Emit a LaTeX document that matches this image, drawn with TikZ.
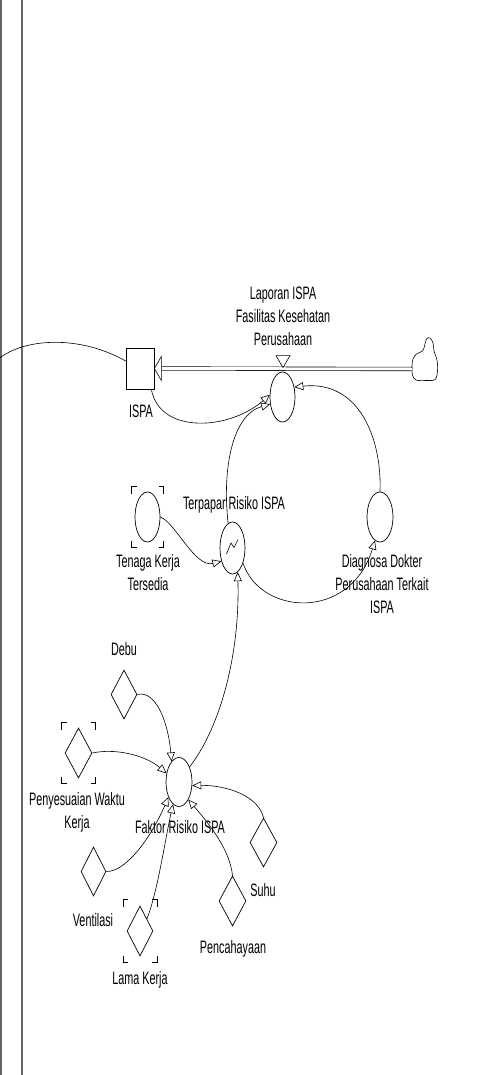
\documentclass[tikz,border=0pt]{standalone}
\usepackage{fontspec}
\setmainfont[FakeStretch=0.6]{Liberation Sans}
\usetikzlibrary{shapes.geometric,arrows.meta,calc}
\tikzset{
  lbl/.style={font=\fontsize{18}{23}\selectfont, align=center, inner sep=0pt},
  aux/.style={draw, ellipse, inner sep=0pt, line width=0.7pt},
  cst/.style={draw, diamond, inner sep=0pt, line width=0.7pt},
  stockbox/.style={draw, rectangle, inner sep=0pt, line width=0.7pt},
  plain/.style={line width=0.6pt},
  conn/.style={line width=0.6pt, -{Triangle[open,length=9pt,width=8pt,line width=0.6pt]}},
  frame/.style={line width=1.3pt, black!60},
}
\newcommand\ghostmarks[3]{%
  \begin{scope}[shift={(#1.center)}]
    \draw[plain] (-#2,-#3+7) -- (-#2,-#3) -- (-#2+5,-#3);
    \draw[plain] (#2-5,-#3) -- (#2,-#3) -- (#2,-#3+7);
    \draw[plain] (-#2,#3-7) -- (-#2,#3) -- (-#2+5,#3);
    \draw[plain] (#2-5,#3) -- (#2,#3) -- (#2,#3-7);
  \end{scope}}
\begin{document}
\begin{tikzpicture}[x=1pt,y=-1pt]
\useasboundingbox (0,0) rectangle (500,1075);
\fill[white] (0,0) rectangle (500,1075);
% frame lines
\coordinate (fa1) at (1,0); \coordinate (fa2) at (1,1075);
\coordinate (fb1) at (22,0); \coordinate (fb2) at (22,1075);
\draw[frame] (fa1) -- (fa2);
\draw[frame] (fb1) -- (fb2);

% stock and flow
\node[stockbox, minimum width=28pt, minimum height=41pt] (ispa) at (140,368.5) {};
\node[aux, minimum width=25pt, minimum height=50pt] (lap) at (282.5,397) {};
\coordinate (cloudL) at (412,369);
\draw[plain] plot[smooth cycle, tension=0.6] coordinates {(412,366) (412.5,375) (416,380) (426,380.5) (435,379.5) (437.5,371) (437,360) (434,351) (433,343) (430,338) (426.5,339) (424.5,346) (422.5,351) (416.5,354) (413,359)};
\draw[line width=0.6pt, double, double distance=3pt] (cloudL) -- ($(ispa.east)+(7,0)$);
\draw[plain, fill=white] (ispa.east) -- ++(7,-12) -- ++(0,24) -- cycle;
\draw[plain, fill=white] ($(lap.north)+(-6.5,-16)$) -- ++(14,0) -- ($(lap.north)+(0.5,-4)$) -- cycle;

% auxiliaries
\node[aux, minimum width=25pt, minimum height=52pt] (terp) at (232.5,548) {};
\draw[plain] ($(terp.center)+(-6,6)$) -- ++(4.5,-11) -- ++(3,4.5) -- ++(4,-8);
\node[aux, minimum width=25pt, minimum height=50pt] (ten) at (147.5,517) {};
\ghostmarks{ten}{16}{30.5}
\node[aux, minimum width=26pt, minimum height=50pt] (diag) at (380,517) {};
\node[aux, minimum width=26pt, minimum height=49pt] (fak) at (179,782) {};

% constants
\node[cst, minimum width=26pt, minimum height=49pt] (debu) at (124,694.5) {};
\node[cst, minimum width=27pt, minimum height=50pt] (pen) at (78.5,753) {};
\ghostmarks{pen}{17}{30.5}
\node[cst, minimum width=27pt, minimum height=49pt] (suhu) at (263.5,842.5) {};
\node[cst, minimum width=27pt, minimum height=50pt] (penc) at (232.5,901) {};
\node[cst, minimum width=25pt, minimum height=49pt] (vent) at (93.5,871.5) {};
\node[cst, minimum width=26pt, minimum height=50pt] (lama) at (140,931) {};
\ghostmarks{lama}{17}{31.5}

% labels
\node[lbl] (lapL) at (283,316) {Laporan ISPA\\Fasilitas Kesehatan\\Perusahaan};
\node[lbl] (ispaL) at (141,411) {ISPA};
\node[lbl] (terpL) at (234,505) {Terpapar Risiko ISPA};
\node[lbl] (tenL) at (148,572.5) {Tenaga Kerja\\Tersedia};
\node[lbl] (diagL) at (382,584) {Diagnosa Dokter\\Perusahaan Terkait\\ISPA};
\node[lbl] (debuL) at (124,649) {Debu};
\node[lbl] (penL) at (77,812.5) {Penyesuaian Waktu\\Kerja};
\node[lbl] (fakL) at (180,827) {Faktor Risiko ISPA};
\node[lbl] (suhuL) at (263,890) {Suhu};
\node[lbl] (pencL) at (233,949) {Pencahayaan};
\node[lbl] (ventL) at (93,920) {Ventilasi};
\node[lbl] (lamaL) at (140,980) {Lama Kerja};

% connectors
\coordinate (offl) at (-1,358.5);
\draw[plain] (offl) .. controls (25,338) and (80,335) .. ($(ispa.north west)!0.32!(ispa.south west)$);
\draw[conn] ($(ispa.south east)+(-3,0)$) .. controls (160,435) and (230,430) .. (lap.170);
\draw[conn] (terp.100) .. controls (222,470) and (232,415) .. (lap.210);
\draw[conn] (diag.north) .. controls (382,440) and (360,380) .. (lap.40);
\draw[conn] (ten.east) .. controls (175,522) and (195,568) .. (terp.230);
\draw[conn] (terp.-55) .. controls (260,615) and (350,622) .. (diag.258);
\draw[conn] (fak.55) .. controls (222,725) and (240,650) .. (terp.-78);
\draw[conn] (debu.east) .. controls (155,690) and (168,720) .. (fak.110);
\draw[conn] (pen.east) .. controls (115,748) and (145,755) .. (fak.145);
\draw[conn] (suhu.north) .. controls (258,795) and (225,785) .. (fak.-15);
\draw[conn] (penc.north) .. controls (230,850) and (210,825) .. (fak.-62);
\draw[conn] (vent.east) .. controls (125,872) and (150,840) .. (fak.-125);
\draw[conn] (lama.60) .. controls (158,890) and (165,840) .. (fak.-105);
\end{tikzpicture}
\end{document}
